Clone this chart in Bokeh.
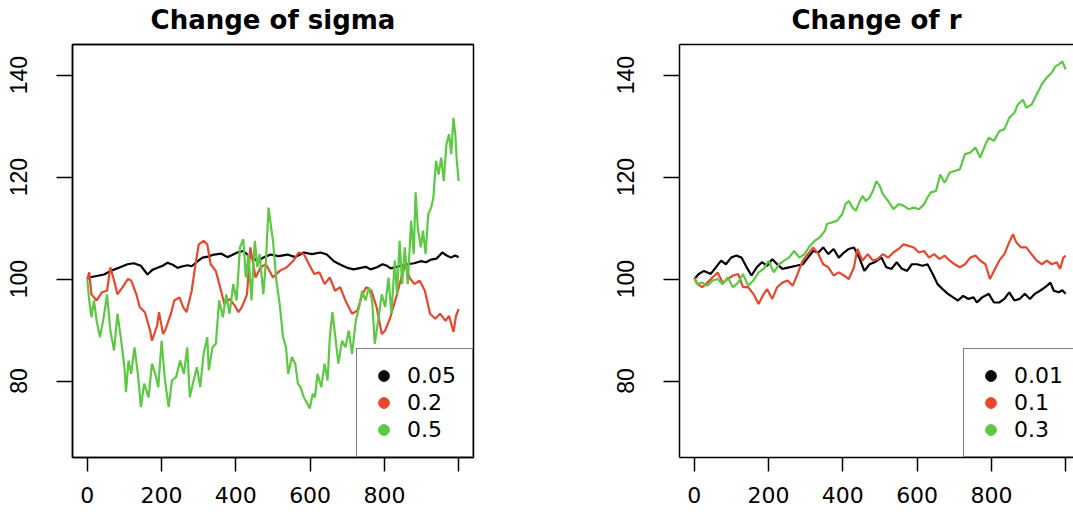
from bokeh.plotting import figure
from bokeh.models import Range1d, FixedTicker, LinearAxis, Legend, LegendItem
from bokeh.layouts import row
from bokeh.embed import file_html
from bokeh.resources import INLINE

# ---------------- data ----------------
titles = ["Change of sigma", "Change of r"]
sigma_labels = ["0.05", "0.2", "0.5"]
r_labels = ["0.01", "0.1", "0.3"]
colors = ["#000000", "#E8472E", "#5DC843"]
x_ticks = [0, 200, 400, 600, 800, 1000]
y_ticks = [80, 100, 120, 140]
x_limits = [-40, 1040]
y_limits = [65, 146]

# sigma = 0.05  (step, price)
sigma_005 = [(0,100.0),(5,100.3),(25,100.6),(45,100.9),(63,101.6),(85,102.2),(108,102.9),(125,103.1),
             (144,102.6),(162,100.9),(175,101.8),(189,102.2),(203,102.6),(216,103.2),(230,102.8),(243,102.2),
             (257,102.5),(270,102.7),(281,102.5),(292,103.2),(310,104.2),(325,104.4),(341,104.8),(360,105.0),
             (377,104.3),(390,104.7),(404,105.2),(420,105.5),(431,104.8),(445,104.2),(458,103.5),(476,104.3),
             (494,104.8),(515,104.5),(539,104.8),(560,104.3),(583,105.2),(605,104.9),(628,105.2),(645,104.8),
             (664,103.5),(682,102.8),(700,102.2),(718,101.9),(736,102.2),(750,102.4),(763,101.9),(780,102.3),
             (795,102.9),(807,102.6),(817,102.1),(840,102.5),(862,102.9),(880,103.1),(898,103.5),(912,103.3),
             (925,103.8),(940,104.0),(956,105.2),(968,104.6),(979,104.2),(990,104.6),(1000,104.3)]
# sigma = 0.2
sigma_02 = [(0,100.0),(5,101.3),(11,97.0),(25,95.8),(39,97.4),(53,97.7),(62,102.3),(72,99.7),(81,97.0),
            (95,98.4),(109,100.0),(118,99.7),(132,97.0),(141,94.5),(155,93.5),(169,89.9),(174,87.9),(188,90.9),
            (193,93.5),(204,89.2),(211,90.2),(225,93.2),(234,95.8),(248,96.4),(258,94.5),(267,93.5),(281,97.7),
            (290,102.3),(300,106.8),(313,107.5),(323,106.8),(332,102.9),(346,101.6),(360,97.7),(369,95.1),
            (383,96.1),(397,94.8),(407,93.5),(416,94.5),(430,97.0),(439,106.2),(453,100.3),(467,102.3),
            (481,102.9),(500,100.3),(518,101.6),(537,102.3),(555,103.6),(569,105.2),(583,104.9),(597,102.9),
            (611,101.0),(625,101.3),(639,99.0),(653,100.3),(667,97.7),(681,98.4),(695,95.8),(713,93.2),
            (727,93.8),(741,97.0),(751,98.4),(765,97.7),(779,94.5),(793,89.2),(802,89.9),(816,92.5),(834,97.0),
            (848,101.0),(858,102.9),(867,100.3),(881,99.0),(895,99.7),(909,97.7),(923,93.2),(937,92.2),
            (950,93.2),(965,91.8),(974,92.8),(986,89.6),(993,92.8),(1000,94.1)]
# sigma = 0.5
sigma_05 = [(0,100.0),(5,95.8),(11,92.5),(18,95.8),(25,91.8),(34,88.6),(44,92.5),(53,97.0),(62,89.9),
            (72,86.0),(81,93.2),(90,88.6),(100,82.7),(104,77.8),(111,84.0),(118,81.4),(127,86.6),(137,80.8),
            (144,74.9),(153,79.5),(165,76.8),(174,83.4),(183,81.4),(191,78.8),(200,87.9),(209,80.1),(219,74.9),
            (228,80.1),(239,80.8),(250,84.0),(260,81.4),(269,86.6),(276,76.8),(286,80.1),(295,82.7),(304,78.8),
            (313,85.3),(323,88.6),(327,82.1),(337,86.6),(346,87.3),(355,95.8),(365,92.5),(374,97.0),(383,93.2),
            (393,99.0),(402,95.8),(411,106.2),(420,107.8),(427,100.3),(434,104.9),(442,95.8),(451,107.5),
            (458,102.3),(464,104.9),(474,97.0),(481,103.6),(488,114.0),(495,110.1),(500,107.5),(509,99.7),
            (518,95.1),(527,88.6),(535,86.6),(541,81.4),(551,84.7),(560,83.4),(567,79.5),(574,78.8),(583,76.8),
            (593,75.5),(599,74.6),(607,77.5),(613,76.8),(620,81.4),(630,78.8),(639,83.4),(647,80.1),(653,88.6),
            (660,93.5),(667,89.2),(676,83.4),(686,87.9),(695,86.6),(704,89.9),(713,85.3),(723,91.8),(732,94.5),
            (740,97.7),(749,95.8),(758,98.4),(767,95.8),(774,87.3),(783,91.8),(793,97.0),(802,94.5),(811,100.3),
            (819,93.2),(828,103.6),(834,97.0),(841,107.5),(848,99.0),(855,106.2),(863,99.0),(872,111.4),
            (879,104.9),(884,117.0),(890,110.1),(898,106.2),(904,109.5),(911,104.9),(918,112.7),(926,114.0),
            (932,116.0),(939,123.2),(946,120.5),(953,123.8),(960,119.2),(967,126.4),(974,128.4),(980,124.5),
            (986,131.6),(991,128.4),(995,123.2),(1000,119.2)]
# r = 0.01
r_001 = [(0,100.0),(12,101.0),(26,101.6),(44,101.0),(58,102.3),(72,103.6),(85,102.9),(99,104.2),(113,104.6),
         (127,104.2),(141,102.3),(154,100.7),(168,102.3),(182,103.3),(196,102.6),(210,103.9),(223,102.9),
         (237,102.0),(255,102.3),(274,102.6),(292,102.9),(306,104.2),(320,105.5),(334,105.2),(347,106.2),
         (361,104.9),(375,105.9),(389,104.2),(403,105.2),(416,105.9),(430,106.2),(444,104.2),(458,101.6),
         (472,102.9),(485,103.3),(504,104.2),(517,102.3),(531,102.0),(545,103.3),(559,102.0),(573,101.6),
         (586,102.9),(600,102.9),(614,102.6),(628,102.9),(642,101.0),(655,99.0),(669,98.0),(683,97.1),
         (697,96.4),(710,95.8),(724,96.7),(738,96.1),(752,96.4),(761,95.4),(775,96.4),(793,97.1),(807,95.4),
         (821,95.4),(835,96.1),(848,97.4),(862,95.8),(876,96.1),(890,97.1),(904,96.1),(917,97.1),(931,97.7),
         (945,98.4),(959,99.3),(968,97.7),(982,97.4),(991,97.8),(1000,97.1)]
# r = 0.1
r_01 = [(0,100.3),(9,99.0),(21,98.4),(35,99.3),(49,100.3),(63,101.3),(76,99.3),(90,100.0),(104,100.7),
        (118,101.0),(131,98.4),(145,98.4),(159,97.1),(173,95.1),(187,97.1),(196,98.0),(210,96.1),(223,98.4),
        (237,99.3),(251,99.7),(265,98.7),(278,101.0),(292,103.6),(306,104.9),(320,106.2),(334,104.9),
        (347,102.9),(361,102.3),(375,100.7),(389,101.3),(403,100.7),(416,100.0),(430,102.3),(439,105.9),
        (453,103.6),(467,104.9),(481,103.6),(494,103.9),(508,104.9),(522,104.2),(536,105.2),(550,105.9),
        (563,106.8),(577,106.5),(591,106.2),(605,105.2),(619,105.5),(632,104.2),(646,104.9),(660,103.9),
        (674,104.6),(688,103.6),(701,102.9),(715,102.3),(729,102.9),(743,104.2),(757,104.6),(770,103.6),
        (784,102.9),(796,100.0),(807,101.6),(821,103.6),(835,104.9),(848,107.2),(858,108.8),(867,107.2),
        (880,106.2),(894,106.2),(908,104.9),(922,103.6),(936,102.9),(949,103.6),(963,102.9),(976,103.3),
        (985,102.0),(994,104.2),(1000,104.6)]
# r = 0.3
r_03 = [(0,100.0),(7,99.0),(21,99.3),(35,98.7),(49,99.7),(63,100.0),(76,99.0),(90,100.3),(104,98.4),
        (118,99.3),(131,101.0),(145,98.7),(159,99.7),(173,101.3),(187,102.0),(200,103.6),(214,101.3),
        (228,102.9),(242,103.6),(255,104.2),(269,105.5),(283,104.2),(297,104.9),(311,106.5),(324,107.5),
        (338,108.2),(352,109.5),(357,110.8),(370,111.1),(384,111.4),(398,112.7),(407,114.7),(416,115.3),
        (426,114.0),(435,113.4),(444,115.0),(453,116.3),(462,115.3),(472,116.0),(481,117.3),(490,119.2),
        (499,118.3),(508,116.6),(522,115.3),(536,113.7),(550,114.7),(563,114.4),(577,113.7),(591,114.0),
        (605,113.7),(619,114.7),(628,116.0),(637,117.0),(651,117.3),(662,120.5),(674,118.9),(688,120.9),
        (701,121.2),(715,121.5),(729,124.5),(743,124.8),(757,125.8),(770,123.8),(784,126.4),(793,127.7),
        (807,127.1),(821,129.0),(835,129.4),(848,131.6),(862,132.6),(871,134.2),(885,135.2),(894,133.6),
        (908,134.2),(922,136.2),(936,138.2),(949,139.5),(963,140.5),(972,141.7),(982,142.1),(991,142.7),
        (1000,141.1)]

# ---------------- layout constants ----------------
FRAME_W = 401
FRAME_H = 413
BORDER_L = 72
BORDER_T = 44
FIG_H = 514
LEFT_FIG_W = 607
RIGHT_FIG_W = 466
FONT = "DejaVu Sans"
NAN = float("nan")


def make_panel(title, series, labels, fig_w, border_r, clipped):
    frame_w = fig_w - BORDER_L - border_r
    x_end = x_limits[0] + (x_limits[1] - x_limits[0]) * frame_w / FRAME_W
    p = figure(width=fig_w, height=FIG_H, output_backend="svg", toolbar_location=None,
               x_range=Range1d(x_limits[0], x_end), y_range=Range1d(*y_limits),
               min_border_left=BORDER_L, min_border_right=border_r,
               min_border_top=BORDER_T, min_border_bottom=FIG_H - BORDER_T - FRAME_H,
               background_fill_color="white", border_fill_color="white")
    p.grid.visible = False

    xa = p.xaxis[0]
    xa.ticker = FixedTicker(ticks=x_ticks)
    xa.major_label_overrides = {1000: ""}
    xa.minor_tick_line_color = None
    xa.major_tick_in = 0
    xa.major_tick_out = 14
    xa.major_tick_line_width = 1.5
    xa.axis_line_width = 1.5
    xa.major_label_text_font = FONT
    xa.major_label_text_font_size = "22px"
    xa.major_label_text_color = "black"
    xa.major_label_standoff = 15

    ya = p.yaxis[0]
    ya.ticker = FixedTicker(ticks=y_ticks)
    ya.minor_tick_line_color = None
    ya.major_tick_in = 0
    ya.major_tick_out = 16
    ya.major_tick_line_width = 1.5
    ya.axis_line_width = 1.5
    ya.major_label_orientation = "vertical"
    ya.major_label_text_font = "Liberation Sans"
    ya.major_label_text_font_size = "23px"
    ya.major_label_text_color = "black"
    ya.major_label_standoff = 29

    if clipped:
        p.outline_line_color = None
    else:
        p.outline_line_color = "black"
        p.outline_line_width = 1.5
        p.outline_line_alpha = 1.0

    # top axis: draws the top edge of the box and carries the title as its label
    top = LinearAxis(ticker=FixedTicker(ticks=[]), major_tick_out=0, major_tick_in=0,
                     minor_tick_out=0, minor_tick_in=0, major_label_text_font_size="0px",
                     axis_line_width=1.5, axis_line_color="black",
                     axis_label=title, axis_label_standoff=10,
                     axis_label_text_font=FONT, axis_label_text_font_style="bold",
                     axis_label_text_font_size="26px", axis_label_text_color="black")
    p.add_layout(top, "above")

    items = []
    for (pts, lab, col) in zip(series, labels, colors):
        xs = [a for a, b in pts]
        ys = [b for a, b in pts]
        p.line(xs, ys, line_color=col, line_width=2.2)
        dot = p.scatter(x=[NAN], y=[NAN], marker="circle", size=12, fill_color=col, line_color=col)
        items.append(LegendItem(label=lab, renderers=[dot]))

    legend = Legend(items=items, margin=0, padding=13, spacing=0,
                    glyph_width=27, glyph_height=27, label_standoff=10, label_width=52,
                    label_text_font=FONT, label_text_font_size="22px", label_text_color="black",
                    border_line_color="black", border_line_width=1.5,
                    background_fill_color="white", background_fill_alpha=1.0)
    if clipped:
        legend.location = (284, 0)
    else:
        legend.location = "bottom_right"
    p.add_layout(legend)
    return p


p1 = make_panel(titles[0], [sigma_005, sigma_02, sigma_05], sigma_labels,
                LEFT_FIG_W, LEFT_FIG_W - BORDER_L - FRAME_W, False)
p2 = make_panel(titles[1], [r_001, r_01, r_03], r_labels, RIGHT_FIG_W, 0, True)

layout = row(p1, p2, spacing=0)
open("out.html", "w").write(file_html(layout, INLINE))
